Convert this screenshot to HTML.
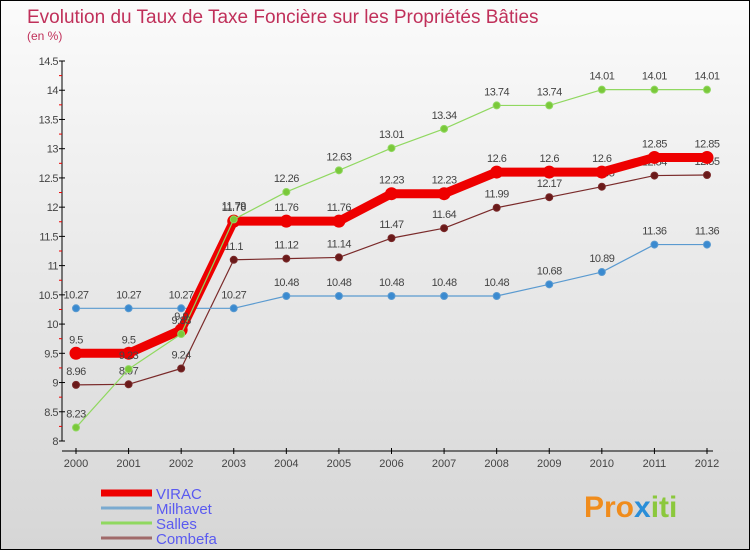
<!DOCTYPE html>
<html><head><meta charset="utf-8"><style>
body{margin:0}
#c{width:750px;height:550px;position:relative;box-sizing:border-box;border:1px solid #000;background:linear-gradient(#fbfbfb,#d6d6d6);font-family:"Liberation Sans",sans-serif;overflow:hidden}
</style></head><body>
<div id="c">
<svg id="s" width="750" height="550" style="position:absolute;left:0;top:0" font-family="Liberation Sans, sans-serif">
<text x="26" y="22" font-size="19" fill="#c0305a">Evolution du Taux de Taxe Foncière sur les Propriétés Bâties</text>
<text x="26" y="39" font-size="12" fill="#c0305a">(en %)</text>
<g id="axes"></g><g id="series"></g><g id="legend"></g>
<text x="583" y="516" font-size="30" font-weight="bold" fill="#f08c1c">Pro<tspan fill="#2a8ed8">x</tspan><tspan fill="#8bc83c">iti</tspan></text>
</svg>
</div>
<script>
const years=["2000","2001","2002","2003","2004","2005","2006","2007","2008","2009","2010","2011","2012"];
const yTicks=[8,8.5,9,9.5,10,10.5,11,11.5,12,12.5,13,13.5,14,14.5];
const virac=[9.5,9.5,9.9,11.76,11.76,11.76,12.23,12.23,12.6,12.6,12.6,12.85,12.85];
const milhavet=[10.27,10.27,10.27,10.27,10.48,10.48,10.48,10.48,10.48,10.68,10.89,11.36,11.36];
const salles=[8.23,9.23,9.83,11.79,12.26,12.63,13.01,13.34,13.74,13.74,14.01,14.01,14.01];
const combefa=[8.96,8.97,9.24,11.1,11.12,11.14,11.47,11.64,11.99,12.17,12.35,12.54,12.55];
const NS="http://www.w3.org/2000/svg";
const X=i=>75+i*(706-75)/(years.length-1);
const Y=v=>440-(v-8)*(380/6.5);
function mk(p,t,a){const e=document.createElementNS(NS,t);for(const k in a)e.setAttribute(k,a[k]);p.appendChild(e);return e;}
const ax=document.getElementById('axes');
let l=mk(ax,'line',{x1:61,y1:60,x2:61,y2:440,stroke:'#000'});


l=mk(ax,'line',{x1:61,y1:450,x2:712,y2:450,stroke:'#000'});


yTicks.forEach(v=>{const y=Y(v);
 mk(ax,'line',{x1:58,y1:y,x2:64,y2:y,stroke:'#000'});
 if(v<14.5) mk(ax,'line',{x1:58,y1:Y(v+0.25),x2:61,y2:Y(v+0.25),stroke:'#e00'});
 const t=mk(ax,'text',{x:57,y:y+4,'font-size':11,fill:'#444','text-anchor':'end','letter-spacing':'-0.5'});t.textContent=v;
 
 });
years.forEach((yr,i)=>{const x=X(i);
 mk(ax,'line',{x1:x,y1:447,x2:x,y2:453,stroke:'#000'});
 const t=mk(ax,'text',{x:x,y:466,'font-size':11,fill:'#444','text-anchor':'middle'});t.textContent=yr;
 
 });
const sg=document.getElementById('series');
function draw(data,color,w,r,dot,name){
 const g=mk(sg,'g',{});
 
 
 mk(g,'polyline',{points:data.map((v,i)=>X(i)+','+Y(v)).join(' '),fill:'none',stroke:color,'stroke-width':w,'stroke-linejoin':'round'});
 data.forEach((v,i)=>{const c=mk(g,'circle',{cx:X(i),cy:Y(v),r:r,fill:dot,stroke:color,'stroke-width':1});
  
  
  const t=mk(g,'text',{x:X(i),y:Y(v)-10,'font-size':11,fill:'#444','text-anchor':'middle','letter-spacing':'-0.5'});t.textContent=v;
  
  });
}
draw(combefa,'#7a2a2a',1.2,3.5,'#6a1a1a','combefa');
draw(milhavet,'#5a9ad0',1.2,3.5,'#3a8ad0','milhavet');
draw(virac,'#ee0000',9,6,'#ee0000','virac');
draw(salles,'#90d860',1.2,3.5,'#7ac83a','salles');
const lg=document.getElementById('legend');
[['VIRAC','#ee0000',7],['Milhavet','#7aaad0',3],['Salles','#90d860',3],['Combefa','#a06a6a',3]].forEach((d,i)=>{
 const y=492+i*15;
 const g=mk(lg,'g',{});
 
 
 mk(g,'line',{x1:100,y1:y,x2:151,y2:y,stroke:d[1],'stroke-width':d[2]});
 const t=mk(g,'text',{x:155,y:y+6,'font-size':15,fill:'#5a5af0'});t.textContent=d[0];
});
</script>
</body></html>
